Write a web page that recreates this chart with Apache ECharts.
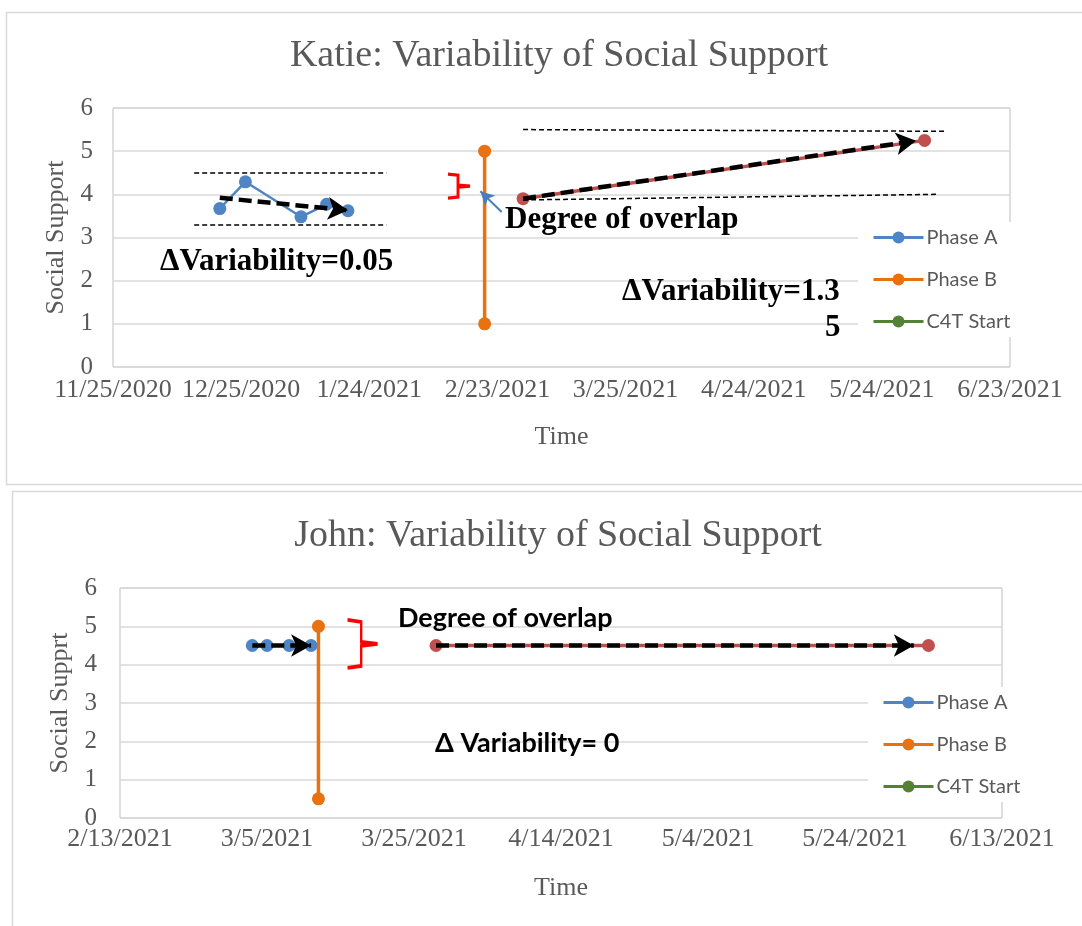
<!DOCTYPE html>
<html>
<head>
<meta charset="utf-8">
<script src="https://cdn.jsdelivr.net/npm/echarts@6/dist/echarts.min.js"></script>
<style>
  html, body { margin: 0; padding: 0; background: #fff; }
  #chart { width: 1082px; height: 926px; }
</style>
</head>
<body>
<div id="chart"></div>
<script>
// tick labels (Excel date axis, major unit 30 / 20 days)
const katieTicks = ['11/25/2020', '12/25/2020', '1/24/2021', '2/23/2021', '3/25/2021', '4/24/2021', '5/24/2021', '6/23/2021']
const johnTicks = ['2/13/2021', '3/5/2021', '3/25/2021', '4/14/2021', '5/4/2021', '5/24/2021', '6/13/2021']
const yTicks = [0, 1, 2, 3, 4, 5, 6]

// Katie
const katieADates = ['12/20/2020', '12/26/2020', '1/8/2021', '1/14/2021', '1/19/2021']
const katieAValues = [3.67, 4.29, 3.48, 3.77, 3.62]
const katieBDates = ['2/20/2021', '2/20/2021']
const katieBValues = [5, 1]
const katieCDates = ['3/1/2021', '6/3/2021']
const katieCValues = [3.9, 5.25]

// John
const johnADates = ['3/3/2021', '3/5/2021', '3/8/2021', '3/11/2021']
const johnAValues = [4.5, 4.5, 4.5, 4.5]
const johnBDates = ['3/12/2021', '3/12/2021']
const johnBValues = [5, 0.5]
const johnCDates = ['3/28/2021', '6/3/2021']
const johnCValues = [4.5, 4.5]

// hand-drawn annotations, in data units [date, value]
const katieBandA = [[['12/14/2020', 4.5], ['1/28/2021', 4.5]], [['12/14/2020', 3.3], ['1/28/2021', 3.3]]]
const katieTrendA = [['12/20/2020', 3.92], ['1/19/2021', 3.63]]
const katieBandC = [[['3/1/2021', 5.5], ['6/8/2021', 5.46]], [['3/1/2021', 3.87], ['6/6/2021', 4.0]]]
const katieTrendC = [['3/1/2021', 3.9], ['6/1/2021', 5.24]]
const katieOverlapArrow = [['2/24/2021', 3.59], ['2/19/2021', 4.07]]
const katieBrace = ['2/14/2021', 4.19]
const johnTrendA = [['3/3/2021', 4.5], ['3/11/2021', 4.5]]
const johnTrendC = [['3/28/2021', 4.5], ['6/1/2021', 4.5]]
const johnBrace = ['3/18/2021', 4.54]

const EPOCH = Date.UTC(1899, 11, 30)
const DAY = 86400000

function serial(s) {
  const [m, d, y] = s.split('/').map(Number)
  return Math.round((Date.UTC(y, m - 1, d) - EPOCH) / DAY)
}

function dateLabel(v) {
  const t = new Date(EPOCH + v * DAY)
  return (t.getUTCMonth() + 1) + '/' + t.getUTCDate() + '/' + t.getUTCFullYear()
}

function pairs(dates, values) {
  return dates.map((d, i) => [serial(d), values[i]])
}

function pt(p) {
  return [serial(p[0]), p[1]]
}

const GRAY = '#595959'
const SERIF = '"Liberation Serif", "DejaVu Serif", serif'
const SANS = 'Lato, "Open Sans", sans-serif'

const thin = { color: '#000', width: 1.5, type: [5, 3] }
const thick = { color: '#000', width: 4.5, type: [13, 6] }

function seg(a, b, style, arrow) {
  return [
    { coord: pt(a), symbol: 'none', lineStyle: style },
    { coord: pt(b), symbol: arrow ? 'arrow' : 'none', symbolSize: arrow ? [17, 20] : 0, lineStyle: style }
  ]
}

const bracePath = 'path://M0,0 L10,1 L10,11 L22,12 L10,13 L10,23 L0,24'

function brace(p, w, h) {
  return {
    coord: pt(p),
    symbol: bracePath,
    symbolSize: [w, h],
    itemStyle: { color: 'none', borderColor: '#ff0000', borderWidth: 3 }
  }
}

function xAxis(ticks, step, grid, margin) {
  return {
    type: 'value',
    gridIndex: grid,
    min: serial(ticks[0]),
    max: serial(ticks[ticks.length - 1]),
    interval: step,
    axisLine: { show: false },
    axisTick: { show: false },
    splitLine: { show: false },
    axisLabel: { formatter: dateLabel, fontFamily: SERIF, fontSize: 26, color: GRAY, margin: margin },
    name: 'Time',
    nameLocation: 'middle',
    nameGap: 57,
    nameTextStyle: { fontFamily: SERIF, fontSize: 26, color: GRAY }
  }
}

function yAxis(grid, name, gap, margin) {
  return {
    type: 'value',
    gridIndex: grid,
    min: yTicks[0],
    max: yTicks[yTicks.length - 1],
    interval: 1,
    axisLine: { show: false },
    axisTick: { show: false },
    splitLine: { lineStyle: { color: '#d9d9d9', width: 1.5 } },
    axisLabel: { fontFamily: SERIF, fontSize: 25, color: GRAY, margin: margin },
    name: name,
    nameLocation: 'middle',
    nameGap: gap,
    nameTextStyle: { fontFamily: SERIF, fontSize: 26, color: GRAY }
  }
}

function legend(left, top) {
  return {
    data: ['Phase A', 'Phase B', 'C4T Start'],
    orient: 'vertical',
    left: left,
    top: top,
    itemWidth: 50,
    itemHeight: 15,
    itemGap: 21,
    padding: [5, 10, 5, 14],
    backgroundColor: '#fff',
    selectedMode: false,
    lineStyle: { width: 3 },
    textStyle: { fontFamily: SANS, fontSize: 20, color: GRAY, lineHeight: 21, padding: [0, 0, 0, -2] }
  }
}

function lineSeries(name, data, color, grid, lw) {
  return {
    type: 'line',
    name: name,
    xAxisIndex: grid,
    yAxisIndex: grid,
    data: data,
    color: color,
    symbol: 'circle',
    symbolSize: 13,
    lineStyle: { width: lw, color: color },
    itemStyle: { color: color }
  }
}

function text(x, y, str, font) {
  return {
    type: 'text',
    x: x,
    y: y,
    z: 10,
    style: { text: str, font: font, fill: '#000', verticalAlign: 'middle' }
  }
}

const BLUE = '#4f85c4'
const ORANGE = '#e8720f'
const RED = '#c0504d'
const GREEN = '#548235'

const katieC = lineSeries('Phase C', pairs(katieCDates, katieCValues), RED, 0, 3.5)
katieC.markLine = {
  silent: true,
  label: { show: false },
  z: 6,
  data: [
    seg(katieBandA[0][0], katieBandA[0][1], thin),
    seg(katieBandA[1][0], katieBandA[1][1], thin),
    seg(katieBandC[0][0], katieBandC[0][1], thin),
    seg(katieBandC[1][0], katieBandC[1][1], thin),
    seg(katieTrendA[0], katieTrendA[1], thick, true),
    seg(katieTrendC[0], katieTrendC[1], thick, true),
    seg(katieOverlapArrow[0], katieOverlapArrow[1], { color: '#4a7ebb', width: 2, type: 'solid' }, true)
  ]
}
katieC.markPoint = { silent: true, label: { show: false }, data: [brace(katieBrace, 22, 24)] }
// smaller head for the thin blue arrow
katieC.markLine.data[6][1].symbolSize = [11, 14]

const johnC = lineSeries('Phase C', pairs(johnCDates, johnCValues), RED, 1, 3.5)
johnC.markLine = {
  silent: true,
  label: { show: false },
  z: 6,
  data: [
    seg(johnTrendA[0], johnTrendA[1], thick, true),
    seg(johnTrendC[0], johnTrendC[1], thick, true)
  ]
}
johnC.markPoint = { silent: true, label: { show: false }, data: [brace(johnBrace, 30, 48)] }

const option = {
  animation: false,
  backgroundColor: '#fff',
  title: [
    { text: 'Katie: Variability of Social Support', left: 554, top: 32, textAlign: 'center',
      textStyle: { fontFamily: SERIF, fontSize: 38, fontWeight: 'normal', color: GRAY } },
    { text: 'John: Variability of Social Support', left: 553, top: 512, textAlign: 'center',
      textStyle: { fontFamily: SERIF, fontSize: 38, fontWeight: 'normal', color: GRAY } }
  ],
  grid: [
    { left: 113, top: 108, width: 897, height: 259, show: true, borderColor: '#bfbfbf', borderWidth: 1 },
    { left: 120, top: 588, width: 882, height: 230, show: true, borderColor: '#bfbfbf', borderWidth: 1 }
  ],
  xAxis: [xAxis(katieTicks, 30, 0, 10), xAxis(johnTicks, 20, 1, 8)],
  yAxis: [yAxis(0, 'Social Support', 39, 20), yAxis(1, 'Social Supprt', 41, 23)],
  legend: [legend(858, 222), legend(868, 687)],
  series: [
    lineSeries('Phase A', pairs(katieADates, katieAValues), BLUE, 0, 2.5),
    lineSeries('Phase B', pairs(katieBDates, katieBValues), ORANGE, 0, 3.5),
    katieC,
    lineSeries('C4T Start', [], GREEN, 0, 3),
    lineSeries('Phase A', pairs(johnADates, johnAValues), BLUE, 1, 2.5),
    lineSeries('Phase B', pairs(johnBDates, johnBValues), ORANGE, 1, 3.5),
    johnC,
    lineSeries('C4T Start', [], GREEN, 1, 3)
  ],
  graphic: [
    { type: 'rect', z: -10, shape: { x: 6.5, y: 12.5, width: 1100, height: 472 },
      style: { fill: 'none', stroke: '#d9d9d9', lineWidth: 1.5 } },
    { type: 'rect', z: -10, shape: { x: 12.5, y: 491.5, width: 1100, height: 460 },
      style: { fill: 'none', stroke: '#d9d9d9', lineWidth: 1.5 } },
    text(505, 220, 'Degree of overlap', 'bold 31px ' + SERIF),
    text(160, 262, 'ΔVariability=0.05', 'bold 31px ' + SERIF),
    text(622, 292, 'ΔVariability=1.3', 'bold 31px ' + SERIF),
    text(825, 328, '5', 'bold 31px ' + SERIF),
    text(398, 618, 'Degree of overlap', 'bold 27px ' + SANS),
    text(435, 743, 'Δ Variability= 0', 'bold 27px ' + SANS)
  ]
}

const chart = echarts.init(document.getElementById('chart'))
chart.setOption(option)
</script>
</body>
</html>
